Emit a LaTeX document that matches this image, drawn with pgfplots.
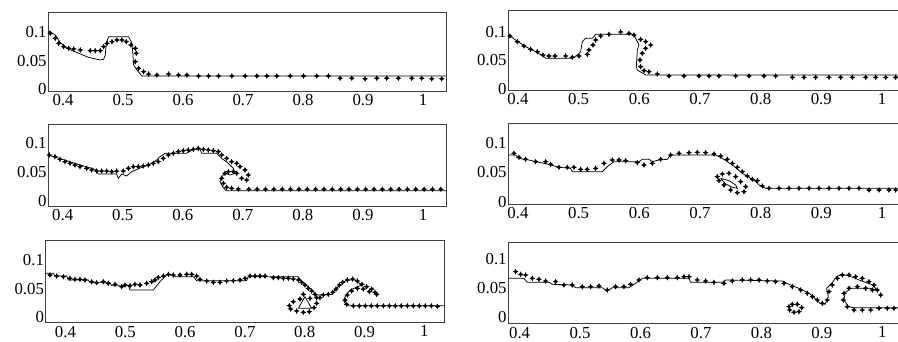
\documentclass[border=0pt]{standalone}
\usepackage{pgfplots}
\pgfplotsset{compat=1.18}
\usepackage{fontspec}
\setmainfont{Liberation Serif}
\newcommand\tlfont{\fontsize{16.8}{17}\selectfont}
\pgfdeclareplotmark{star4}{%
  \pgfpathmoveto{\pgfqpoint{0pt}{\pgfplotmarksize}}%
  \pgfpathlineto{\pgfqpoint{0.32\pgfplotmarksize}{0.32\pgfplotmarksize}}%
  \pgfpathlineto{\pgfqpoint{\pgfplotmarksize}{0pt}}%
  \pgfpathlineto{\pgfqpoint{0.32\pgfplotmarksize}{-0.32\pgfplotmarksize}}%
  \pgfpathlineto{\pgfqpoint{0pt}{-\pgfplotmarksize}}%
  \pgfpathlineto{\pgfqpoint{-0.32\pgfplotmarksize}{-0.32\pgfplotmarksize}}%
  \pgfpathlineto{\pgfqpoint{-\pgfplotmarksize}{0pt}}%
  \pgfpathlineto{\pgfqpoint{-0.32\pgfplotmarksize}{0.32\pgfplotmarksize}}%
  \pgfpathclose
  \pgfusepathqfillstroke}
\pgfplotsset{
  panel/.style={
    scale only axis, anchor=north west,
    axis line style={black!75, line width=1pt},
    major tick length=0pt,
    xtick={0.4,0.5,0.6,0.7,0.8,0.9,1},
    xticklabels={0.4,0.5,0.6,0.7,0.8,0.9,1},
    ytick={0,0.05,0.1},
    yticklabels={0,0.05,0.1},
    ticklabel style={font=\tlfont},
    yticklabel style={inner xsep=1.5pt},
    /pgf/number format/assume math mode=true,
    clip=true,
  },
  sol/.style={black, line width=0.75pt, no marks},
  mk/.style={only marks, black, mark=star4, mark size=2.3pt, mark options={line width=0.5pt, fill=black}},
}
\begin{document}
\begin{tikzpicture}
\path[use as bounding box] (0pt,0pt) rectangle (898pt,-341pt);

% ---------------- Panel 1 ----------------
\begin{axis}[panel, at={(48.3pt,-12.3pt)}, width=397.7pt, height=78.7pt,
  xmin=0.3755, xmax=1.0383, ymin=-0.0029, ymax=0.1351]
\addplot[sol] table {
0.3761 0.1023
0.3872 0.0953
0.3956 0.0819
0.4067 0.0719
0.4261 0.0632
0.4427 0.0561
0.4622 0.0515
0.4677 0.0526
0.4705 0.0602
0.4722 0.0807
0.4760 0.0924
0.5094 0.0924
0.5149 0.0807
0.5166 0.0602
0.5177 0.0427
0.5232 0.0339
0.5316 0.0234
1.0383 0.0234
};
\addplot[mk] table {
0.3789 0.0982
0.3872 0.0895
0.3928 0.0807
0.4011 0.0749
0.4094 0.0719
0.4178 0.0708
0.4289 0.0690
0.4455 0.0678
0.4538 0.0678
0.4622 0.0678
0.4677 0.0749
0.4733 0.0807
0.4816 0.0836
0.4899 0.0865
0.4982 0.0865
0.5055 0.0836
0.5132 0.0778
0.5205 0.0719
0.5221 0.0632
0.5205 0.0485
0.5260 0.0368
0.5343 0.0310
0.5427 0.0269
0.5565 0.0251
0.5760 0.0269
0.5926 0.0251
0.6065 0.0251
0.6259 0.0234
0.6426 0.0234
0.6592 0.0234
0.6814 0.0234
0.7036 0.0234
0.7231 0.0234
0.7397 0.0234
0.7564 0.0234
0.7786 0.0234
0.8008 0.0234
0.8230 0.0234
0.8424 0.0234
0.8619 0.0195
0.8813 0.0195
0.9035 0.0185
0.9229 0.0195
0.9395 0.0195
0.9590 0.0195
0.9812 0.0195
0.9978 0.0195
1.0145 0.0185
1.0311 0.0185
};
\end{axis}

% ---------------- Panel 2 ----------------
\begin{axis}[panel, at={(508.3pt,-10pt)}, width=390.7pt, height=80pt,
  xmin=0.3841, xmax=1.028, ymin=-0.0012, ymax=0.1376]
\addplot[sol] table {
0.3852 0.0942
0.3962 0.0855
0.4126 0.0740
0.4291 0.0653
0.4429 0.0566
0.4456 0.0538
0.4896 0.0538
0.4978 0.0595
0.5033 0.0653
0.5060 0.0827
0.5115 0.0884
0.5225 0.0884
0.5280 0.0954
0.5912 0.0954
0.5940 0.0884
0.5995 0.0769
0.5967 0.0682
0.5951 0.0393
0.5967 0.0335
0.6104 0.0249
1.0280 0.0249
};
\addplot[mk] table {
0.3868 0.0925
0.3989 0.0827
0.4099 0.0751
0.4209 0.0694
0.4319 0.0653
0.4412 0.0595
0.4511 0.0578
0.4610 0.0578
0.4786 0.0578
0.4896 0.0555
0.5005 0.0578
0.5143 0.0607
0.5170 0.0682
0.5236 0.0769
0.5280 0.0855
0.5363 0.0925
0.5500 0.0954
0.5692 0.0994
0.5830 0.0971
0.5912 0.0942
0.6022 0.0867
0.6104 0.0827
0.6187 0.0769
0.6104 0.0711
0.6049 0.0624
0.6011 0.0509
0.6022 0.0393
0.6077 0.0324
0.6159 0.0306
0.6297 0.0266
0.6489 0.0231
0.6736 0.0231
0.6984 0.0231
0.7148 0.0231
0.7313 0.0231
0.7588 0.0231
0.7808 0.0231
0.8055 0.0231
0.8247 0.0231
0.8522 0.0208
0.8714 0.0208
0.8907 0.0208
0.9126 0.0208
0.9319 0.0208
0.9511 0.0208
0.9731 0.0208
0.9896 0.0208
1.0061 0.0208
1.0225 0.0208
};
\end{axis}

% ---------------- Panel 3 ----------------
\begin{axis}[panel, at={(48.3pt,-124pt)}, width=398.4pt, height=82pt,
  xmin=0.3761, xmax=1.0395, ymin=-0.0093, ymax=0.1337]
\addplot[sol] table {
0.3761 0.0797
0.4067 0.0698
0.4344 0.0605
0.4538 0.0547
0.4594 0.0465
0.4899 0.0465
0.4927 0.0390
0.4983 0.0465
0.5066 0.0430
0.5149 0.0506
0.5343 0.0593
0.5482 0.0651
0.5565 0.0709
0.5621 0.0767
0.5704 0.0826
0.6065 0.0826
0.6176 0.0895
0.6287 0.0895
0.6315 0.0826
0.6565 0.0826
0.6648 0.0738
0.6759 0.0651
0.6842 0.0564
0.6870 0.0477
0.6787 0.0448
0.6703 0.0477
0.6648 0.0419
0.6620 0.0331
0.6664 0.0244
0.6720 0.0174
1.0395 0.0174
};
\addplot[mk] table {
0.3778 0.0797
0.3872 0.0767
0.3956 0.0721
0.4039 0.0680
0.4122 0.0651
0.4205 0.0622
0.4289 0.0593
0.4400 0.0564
0.4483 0.0535
0.4566 0.0517
0.4649 0.0517
0.4733 0.0517
0.4816 0.0506
0.4899 0.0517
0.5010 0.0517
0.5094 0.0564
0.5177 0.0593
0.5260 0.0593
0.5343 0.0605
0.5427 0.0622
0.5510 0.0651
0.5593 0.0680
0.5676 0.0738
0.5760 0.0797
0.5843 0.0826
0.5926 0.0855
0.6009 0.0872
0.6093 0.0884
0.6176 0.0895
0.6259 0.0913
0.6343 0.0895
0.6426 0.0884
0.6509 0.0872
0.6592 0.0855
0.6648 0.0797
0.6731 0.0738
0.6814 0.0680
0.6898 0.0651
0.6953 0.0593
0.7036 0.0535
0.7092 0.0448
0.7064 0.0360
0.6981 0.0390
0.6898 0.0477
0.6842 0.0506
0.6759 0.0506
0.6703 0.0477
0.6648 0.0390
0.6676 0.0302
0.6731 0.0233
0.6814 0.0215
0.6925 0.0203
0.7100 0.0200
0.7239 0.0200
0.7378 0.0200
0.7517 0.0200
0.7656 0.0200
0.7795 0.0200
0.7934 0.0200
0.8073 0.0200
0.8212 0.0200
0.8351 0.0200
0.8490 0.0200
0.8629 0.0200
0.8768 0.0200
0.8907 0.0200
0.9046 0.0200
0.9185 0.0200
0.9324 0.0200
0.9463 0.0200
0.9602 0.0200
0.9741 0.0200
0.9880 0.0200
1.0019 0.0200
1.0158 0.0200
1.0297 0.0200
};
\end{axis}

% ---------------- Panel 4 ----------------
\begin{axis}[panel, at={(508.3pt,-123.3pt)}, width=390.7pt, height=80.7pt,
  xmin=0.3841, xmax=1.028, ymin=-0.004, ymax=0.1343]
\addplot[sol] table {
0.3850 0.0800
0.3960 0.0800
0.4016 0.0743
0.4181 0.0714
0.4291 0.0686
0.4511 0.0640
0.4676 0.0589
0.4868 0.0571
0.4896 0.0514
0.5390 0.0514
0.5473 0.0600
0.5582 0.0686
0.5995 0.0686
0.6050 0.0726
0.6160 0.0726
0.6214 0.0686
0.6324 0.0714
0.6462 0.0726
0.6516 0.0800
0.7258 0.0800
0.7368 0.0743
0.7533 0.0629
0.7698 0.0486
0.7835 0.0400
0.7918 0.0343
0.7973 0.0286
0.8082 0.0229
1.0280 0.0229
};
\addplot[sol] table {
0.7341 0.0400
0.7478 0.0360
0.7588 0.0286
0.7615 0.0229
0.7533 0.0246
0.7423 0.0303
0.7341 0.0400
};
\addplot[mk] table {
0.3934 0.0829
0.4016 0.0760
0.4126 0.0726
0.4291 0.0686
0.4456 0.0686
0.4538 0.0640
0.4676 0.0589
0.4813 0.0589
0.4923 0.0589
0.5033 0.0554
0.5143 0.0554
0.5280 0.0571
0.5418 0.0657
0.5555 0.0714
0.5665 0.0714
0.5775 0.0703
0.5967 0.0669
0.6077 0.0629
0.6214 0.0657
0.6352 0.0726
0.6516 0.0800
0.6654 0.0829
0.6819 0.0840
0.6956 0.0846
0.7093 0.0840
0.7231 0.0817
0.7341 0.0783
0.7451 0.0726
0.7533 0.0657
0.7615 0.0589
0.7698 0.0514
0.7780 0.0440
0.7863 0.0383
0.7945 0.0360
0.8027 0.0269
0.8137 0.0229
0.8302 0.0229
0.8467 0.0229
0.8632 0.0229
0.8797 0.0229
0.8962 0.0229
0.9126 0.0229
0.9291 0.0229
0.9456 0.0229
0.9621 0.0229
0.9786 0.0200
0.9951 0.0200
1.0115 0.0200
1.0225 0.0200
0.7286 0.0429
0.7368 0.0474
0.7478 0.0486
0.7588 0.0429
0.7670 0.0343
0.7753 0.0257
0.7725 0.0171
0.7615 0.0154
0.7505 0.0200
0.7396 0.0286
0.7313 0.0360
};
\end{axis}

% ---------------- Panel 5 ----------------
\begin{axis}[panel, at={(45.7pt,-240pt)}, width=398.3pt, height=82.3pt,
  xmin=0.3669, xmax=1.0329, ymin=-0.0087, ymax=0.135]
\addplot[sol] table {
0.3668 0.0768
0.3797 0.0768
0.3824 0.0721
0.4020 0.0721
0.4047 0.0652
0.4382 0.0652
0.4410 0.0605
0.4744 0.0605
0.4772 0.0553
0.5051 0.0553
0.5079 0.0477
0.5469 0.0477
0.5580 0.0622
0.5692 0.0739
0.5803 0.0739
0.5831 0.0710
0.6138 0.0710
0.6193 0.0640
0.7029 0.0640
0.7057 0.0710
0.7893 0.0710
0.7948 0.0622
0.8060 0.0535
0.8144 0.0448
0.8199 0.0390
0.8451 0.0401
0.8506 0.0477
0.8590 0.0564
0.8701 0.0652
0.8841 0.0652
0.8952 0.0564
0.8757 0.0477
0.8674 0.0361
0.8657 0.0273
0.8713 0.0204
1.0329 0.0204
};
\addplot[sol] table {
0.7893 0.0157
0.8004 0.0361
0.8116 0.0157
0.7893 0.0157
};
\addplot[mk] table {
0.3741 0.0739
0.3852 0.0721
0.3964 0.0710
0.4075 0.0681
0.4159 0.0663
0.4242 0.0663
0.4326 0.0652
0.4438 0.0622
0.4521 0.0605
0.4633 0.0622
0.4716 0.0593
0.4828 0.0576
0.4939 0.0535
0.4995 0.0564
0.5079 0.0553
0.5162 0.0576
0.5246 0.0564
0.5357 0.0593
0.5441 0.0622
0.5497 0.0652
0.5552 0.0698
0.5636 0.0721
0.5720 0.0750
0.5803 0.0739
0.5915 0.0739
0.6026 0.0750
0.6110 0.0750
0.6193 0.0721
0.6249 0.0663
0.6361 0.0634
0.6472 0.0611
0.6584 0.0611
0.6695 0.0634
0.6807 0.0640
0.6918 0.0652
0.7002 0.0681
0.7085 0.0721
0.7169 0.0721
0.7252 0.0721
0.7336 0.0721
0.7475 0.0692
0.7559 0.0692
0.7642 0.0681
0.7726 0.0681
0.7810 0.0669
0.7893 0.0652
0.7948 0.0611
0.8004 0.0564
0.8060 0.0506
0.8116 0.0460
0.8172 0.0401
0.8199 0.0343
0.8088 0.0332
0.7977 0.0401
0.7921 0.0320
0.7810 0.0273
0.7743 0.0204
0.7765 0.0145
0.7865 0.0110
0.7977 0.0087
0.8077 0.0099
0.8155 0.0169
0.8199 0.0244
0.8255 0.0343
0.8310 0.0390
0.8394 0.0401
0.8467 0.0436
0.8523 0.0494
0.8579 0.0564
0.8634 0.0611
0.8713 0.0652
0.8802 0.0669
0.8880 0.0634
0.8958 0.0576
0.9036 0.0535
0.9120 0.0494
0.9175 0.0436
0.9203 0.0401
0.9081 0.0448
0.8980 0.0494
0.8880 0.0506
0.8785 0.0460
0.8713 0.0390
0.8674 0.0302
0.8701 0.0227
0.8813 0.0200
0.8913 0.0200
0.9014 0.0200
0.9114 0.0200
0.9214 0.0200
0.9315 0.0200
0.9415 0.0200
0.9515 0.0200
0.9615 0.0200
0.9716 0.0200
0.9816 0.0200
0.9916 0.0200
1.0017 0.0200
1.0117 0.0200
1.0217 0.0190
};
\end{axis}

% ---------------- Panel 6 ----------------
\begin{axis}[panel, at={(508.3pt,-242.3pt)}, width=390.7pt, height=81pt,
  xmin=0.3813, xmax=1.0276, ymin=-0.0103, ymax=0.1293]
\addplot[sol] table {
0.3813 0.0672
0.4072 0.0672
0.4127 0.0603
0.4485 0.0603
0.4540 0.0569
0.4871 0.0557
0.4926 0.0511
0.5368 0.0511
0.5450 0.0454
0.5533 0.0511
0.5809 0.0511
0.5919 0.0586
0.6030 0.0672
0.6802 0.0672
0.6829 0.0603
0.7353 0.0603
0.7408 0.0644
0.8346 0.0626
0.8456 0.0569
0.8621 0.0500
0.8787 0.0414
0.8859 0.0356
0.8969 0.0241
0.9052 0.0224
0.9107 0.0356
0.9079 0.0500
0.9162 0.0586
0.9245 0.0701
0.9327 0.0741
0.9438 0.0718
0.9548 0.0672
0.9686 0.0615
0.9851 0.0557
0.9906 0.0471
0.9800 0.0500
0.9631 0.0500
0.9465 0.0500
0.9382 0.0414
0.9366 0.0299
0.9438 0.0184
0.9520 0.0167
1.0276 0.0167
};
\addplot[mk] table {
0.3934 0.0787
0.4017 0.0741
0.4099 0.0730
0.4210 0.0672
0.4320 0.0655
0.4430 0.0626
0.4596 0.0615
0.4733 0.0557
0.4871 0.0557
0.5037 0.0529
0.5175 0.0529
0.5313 0.0540
0.5450 0.0471
0.5588 0.0529
0.5726 0.0529
0.5836 0.0569
0.5974 0.0644
0.6112 0.0684
0.6278 0.0684
0.6443 0.0684
0.6608 0.0684
0.6719 0.0701
0.6802 0.0701
0.6939 0.0644
0.7077 0.0626
0.7215 0.0603
0.7380 0.0586
0.7518 0.0626
0.7684 0.0644
0.7822 0.0644
0.7960 0.0644
0.8098 0.0626
0.8235 0.0615
0.8373 0.0586
0.8511 0.0529
0.8649 0.0471
0.8759 0.0414
0.8842 0.0356
0.8925 0.0299
0.9007 0.0241
0.9090 0.0299
0.9118 0.0443
0.9173 0.0557
0.9256 0.0672
0.9338 0.0730
0.9449 0.0730
0.9559 0.0701
0.9669 0.0672
0.9779 0.0615
0.9862 0.0557
0.9917 0.0471
0.9972 0.0385
0.9835 0.0471
0.9724 0.0500
0.9587 0.0529
0.9449 0.0500
0.9366 0.0414
0.9355 0.0299
0.9421 0.0184
0.9531 0.0126
0.9669 0.0126
0.9807 0.0126
0.9945 0.0155
1.0083 0.0155
1.0193 0.0155
0.8456 0.0184
0.8511 0.0224
0.8594 0.0224
0.8666 0.0167
0.8621 0.0098
0.8539 0.0086
0.8467 0.0126
};
\end{axis}
\end{tikzpicture}
\end{document}
